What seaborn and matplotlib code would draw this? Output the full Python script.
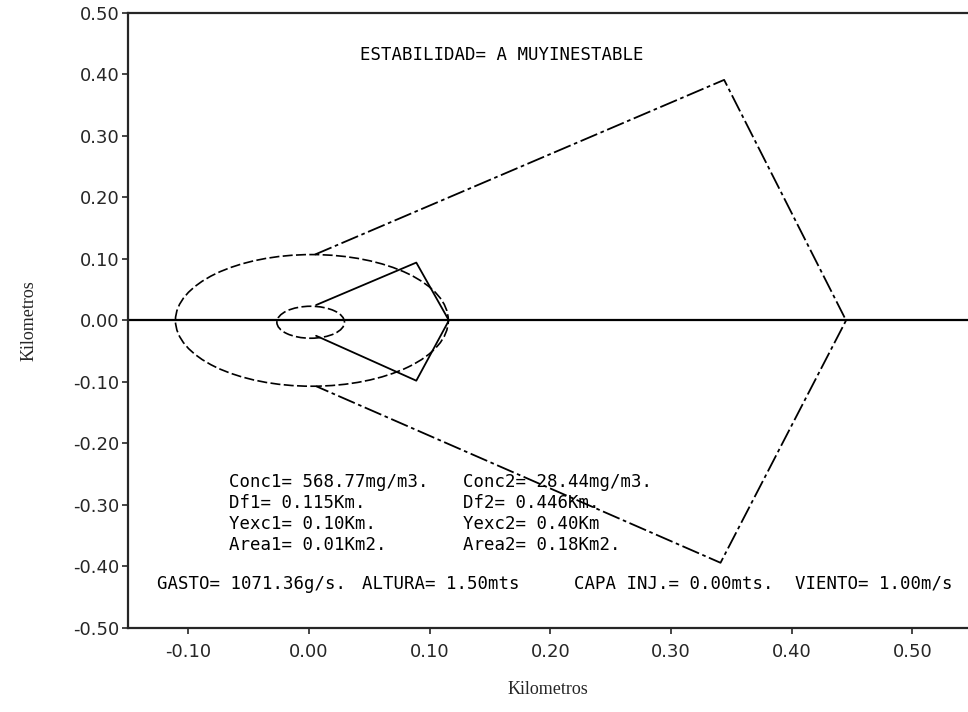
import pandas as pd
import matplotlib.pyplot as plt
import seaborn as sns
from matplotlib.patches import Ellipse

# outer plume envelope (Conc2)
big_x = [0.005, 0.344, 0.445, 0.341, 0.006]
big_y = [0.107, 0.391, 0.0, -0.394, -0.107]

# inner plume envelope (Conc1)
small_x = [0.006, 0.089, 0.116, 0.089, 0.006]
small_y = [0.025, 0.094, 0.0, -0.098, -0.025]

# ellipses: center x, center y, semi-axis x, semi-axis y
ellipse_big = (0.0025, 0.0, 0.113, 0.107)
ellipse_small = (0.0015, -0.003, 0.028, 0.026)

x_ticks = [-0.10, 0.00, 0.10, 0.20, 0.30, 0.40, 0.50]
y_ticks = [0.50, 0.40, 0.30, 0.20, 0.10, 0.00, -0.10, -0.20, -0.30, -0.40, -0.50]

title_text = "ESTABILIDAD= A MUYINESTABLE"
col1_text = ["Conc1= 568.77mg/m3.", "Df1= 0.115Km.", "Yexc1= 0.10Km.", "Area1= 0.01Km2."]
col2_text = ["Conc2= 28.44mg/m3.", "Df2= 0.446Km.", "Yexc2= 0.40Km", "Area2= 0.18Km2."]
bottom_text = ["GASTO= 1071.36g/s.", "ALTURA= 1.50mts", "CAPA INJ.= 0.00mts.", "VIENTO= 1.00m/s"]


def main():
    sns.set_style("ticks")
    plt.rcParams["font.family"] = ["DejaVu Sans"]

    fig = plt.figure(figsize=(9.68, 7.12), dpi=100)
    ax = fig.add_axes([0.132, 0.118, 0.868, 0.864])

    # zero line
    ax.axhline(0, color="black", lw=1.6, zorder=1)

    big = pd.DataFrame({"x": big_x, "y": big_y})
    small = pd.DataFrame({"x": small_x, "y": small_y})
    sns.lineplot(x="x", y="y", data=big, sort=False, estimator=None, ax=ax,
                 color="black", lw=1.3, linestyle=(0, (10, 2, 2, 2)))
    sns.lineplot(x="x", y="y", data=small, sort=False, estimator=None, ax=ax,
                 color="black", lw=1.3)

    for cx, cy, ax_x, ax_y in (ellipse_big, ellipse_small):
        ax.add_patch(Ellipse((cx, cy), 2 * ax_x, 2 * ax_y, fill=False,
                             ec="black", lw=1.2, linestyle=(0, (6, 2))))

    ax.set_xlim(-0.15, 0.546)
    ax.set_ylim(-0.5, 0.5)
    ax.set_xticks(x_ticks)
    ax.set_xticklabels([f"{v:.2f}" for v in x_ticks])
    ax.set_yticks(y_ticks)
    ax.set_yticklabels([f"{v:.2f}" for v in y_ticks])
    ax.tick_params(labelsize=13, length=4, width=1.2, pad=2)
    ax.tick_params(axis="x", pad=7)

    for side in ["left", "bottom"]:
        ax.spines[side].set_linewidth(1.6)
    ax.spines["top"].set_linewidth(1.6)
    ax.spines["right"].set_visible(False)

    ax.set_xlabel("Kilometros", family="Liberation Serif", fontsize=13, labelpad=14)
    ax.set_ylabel("Kilometros", family="Liberation Serif", fontsize=13, labelpad=26)

    mono = dict(family="DejaVu Sans Mono", fontsize=12.5, color="black", va="center")
    ax.text(0.16, 0.432, title_text, ha="center", **mono)

    rows = [-0.263, -0.297, -0.331, -0.365]
    for y, t1, t2 in zip(rows, col1_text, col2_text):
        ax.text(-0.066, y, t1, ha="left", **mono)
        ax.text(0.128, y, t2, ha="left", **mono)

    for x, t in zip([-0.126, 0.044, 0.22, 0.403], bottom_text):
        ax.text(x, -0.428, t, ha="left", **mono)

    plt.savefig("out.png", dpi=100)


if __name__ == "__main__":
    main()
